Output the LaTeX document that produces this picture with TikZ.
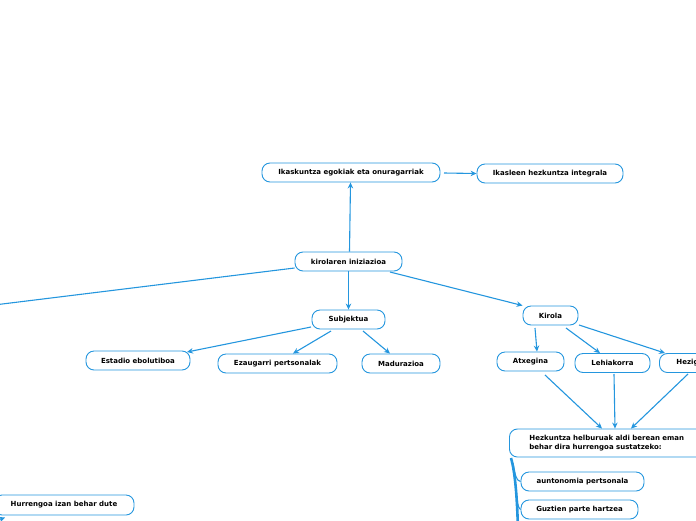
\documentclass[tikz,border=0pt]{standalone}
\usepackage{fontspec}
\setmainfont{DejaVu Sans}
\usetikzlibrary{arrows.meta}
\definecolor{mmblue}{RGB}{36,150,222}
\begin{document}
\begin{tikzpicture}[x=1pt,y=-1pt,
  box/.style={draw=mmblue,line width=0.9pt,fill=white,rounded corners=8pt,
    minimum height=19pt,inner sep=0pt,font=\fontsize{7}{8.2}\selectfont\bfseries},
  conn/.style={draw=mmblue,line width=1.1pt,-{Stealth[length=6pt,width=5.5pt]}},
  plain/.style={draw=mmblue,line width=1.1pt}]
\useasboundingbox (0,0) rectangle (696,520);
\begin{scope}
\clip (0,0) rectangle (696,520);
% nodes
\node[box,minimum width=178pt] (ika) at (351,172.5) {Ikaskuntza egokiak eta onuragarriak};
\node[box,minimum width=146pt] (ikl) at (550,173.5) {Ikasleen hezkuntza integrala};
\node[box,minimum width=107pt] (kir) at (348.5,261.5) {kirolaren iniziazioa};
\node[box,minimum width=73pt] (sub) at (348.5,319.5) {Subjektua};
\node[box,minimum width=104pt] (est) at (138,360.5) {Estadio ebolutiboa};
\node[box,minimum width=119pt] (eza) at (277.5,363.5) {Ezaugarri pertsonalak};
\node[box,minimum width=78pt] (mad) at (401,363.5) {Madurazioa};
\node[box,minimum width=55pt] (kla) at (550.5,315.5) {Kirola};
\node[box,minimum width=67pt] (atx) at (530.5,361.5) {Atxegina};
\node[box,minimum width=75pt] (leh) at (612.5,363) {Lehiakorra};
\node[box,anchor=west,align=left,text width=60pt,inner xsep=17pt] (hez) at (659,363) {Hezigarria};
\node[box,minimum height=28pt,anchor=west,align=left,
  text width=190pt,inner xsep=20pt] (hel) at (509,443)
  {Hezkuntza helburuak aldi berean eman\\behar dira hurrengoa sustatzeko:};
\node[box,minimum width=123pt] (aut) at (582.5,481.5) {auntonomia pertsonala};
\node[box,minimum width=140pt,minimum height=20pt] (hur) at (64,505) {Hurrengoa izan behar dute};
\node[box,minimum width=117pt] (guz) at (579.5,509.5) {Guztien parte hartzea};
% free ends
\coordinate (offl) at (-10,305.5);
\coordinate (offa) at (-10,487);
\coordinate (offb) at (-10,523);
\coordinate (tr0) at (511,458);
\coordinate (tr1) at (518,530);
\coordinate (br1) at (513,463);
\coordinate (br2) at (516,487);
% connectors
\draw[conn] (kir.north -| 349.5,0) -- (ika.south -| 350.5,0);
\draw[conn] (444,173) -- (ikl.west);
\draw[plain] (kir.west |- 0,268) -- (offl);
\draw[conn] (kir.south) -- (sub.north);
\draw[conn] (390,272) -- (kla.north west);
\draw[conn] (311,327) -- (187,352);
\draw[conn] (331,331) -- (eza.north -| 293,0);
\draw[conn] (363,331) -- (mad.north -| 390,0);
\draw[conn] (535,328) -- (atx.north -| 537,0);
\draw[conn] (566,328) -- (leh.north -| 600,0);
\draw[conn] (579,325) -- (hez.north -| 665,0);
\draw[conn] (545,375) -- (hel.north -| 602,0);
\draw[conn] (614,374) -- (hel.north -| 615,0);
\draw[conn] (688,374) -- (hel.north -| 631,0);
\draw[conn] (offa) -- (hur.north west);
\draw[conn] (offb) -- (5,517.5);
\draw[mmblue,line width=2.6pt] (tr0) .. controls (515,472) and (517,495) .. (tr1);
\draw[plain] (br1) .. controls (515,474) and (516,481) .. (aut.west);
\draw[plain] (br2) .. controls (517,500) and (518,509) .. (guz.west);
\end{scope}
\end{tikzpicture}
\end{document}
